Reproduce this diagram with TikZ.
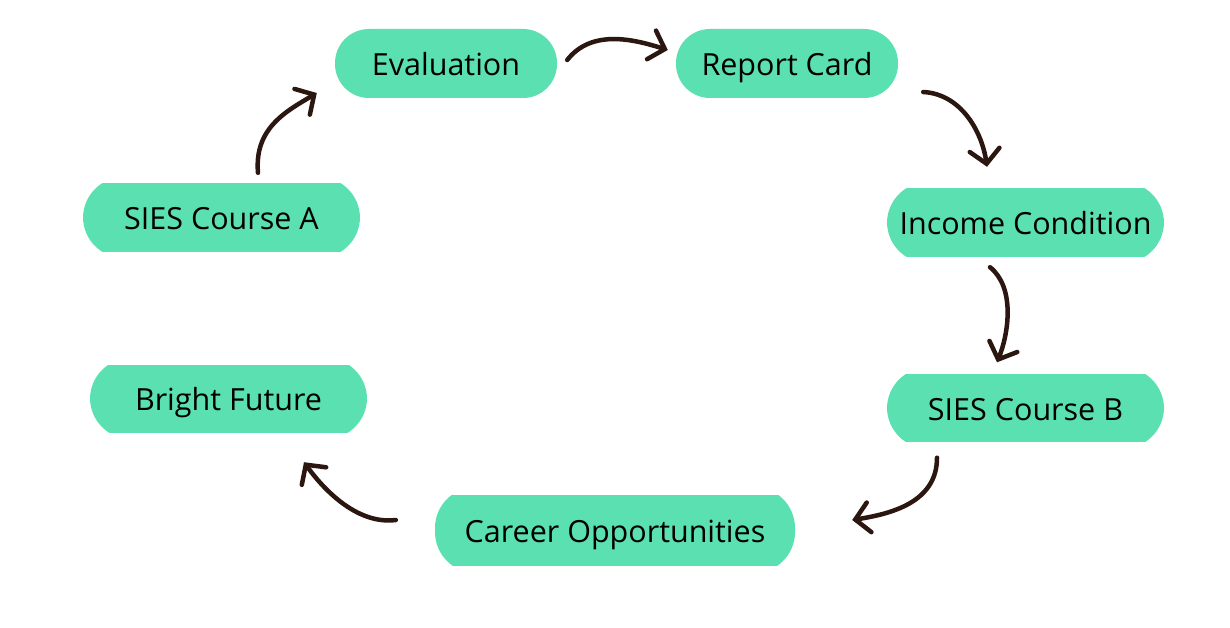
\documentclass[tikz,border=0pt]{standalone}
\usepackage{fontspec}
\setmainfont{Open Sans}
\usetikzlibrary{calc,arrows.meta}
\definecolor{stagegreen}{RGB}{91,224,177}
\definecolor{inkbrown}{RGB}{43,22,16}

\begin{document}
\begin{tikzpicture}[x=1pt, y=-1pt,
  arr/.style={-{Straight Barb[length=14pt,width=30pt,line cap=round]}, line width=4.5pt, line cap=round, draw=inkbrown},
  stage/.style={fill=stagegreen, rounded corners=34pt, minimum width=222pt, minimum height=69pt, inner sep=0pt,
    font=\fontsize{30.5}{36}\selectfont, text height=32pt, text depth=7.6pt},
  cutstage/.style={minimum width=277pt, minimum height=67pt, inner sep=0pt,
    font=\fontsize{30.5}{36}\selectfont, text height=32pt, text depth=7.6pt,
    path picture={\fill[stagegreen, rounded corners=41pt] ([yshift=-#1]path picture bounding box.south west) rectangle ([yshift=#1]path picture bounding box.north east);}},
  cutstage/.default=7pt
]
\useasboundingbox (0,0) rectangle (1230,628);

% the stages of the cycle
\node[cutstage] (courseA) at (221.5,217.5) {SIES Course A};
\node[stage] (eval) at (446,63.5) {Evaluation};
\node[stage] (report) at (787,63.5) {Report Card};
\node[cutstage] (income) at (1025.5,222.5) {Income Condition};
\node[cutstage] (courseB) at (1025.5,408) {SIES Course B};
\node[cutstage=8pt, minimum width=360pt, minimum height=70pt] (career) at (615,530) {Career Opportunities};
\node[cutstage] (future) at (228.5,398.5) {Bright Future};

% curved arrows between them
\draw[arr] ($(courseA.north)+(36.5,-11)$) .. controls +(-4,-45) and +(-30,18) .. ($(eval.west)+(-18,29.5)$);
\draw[arr] ($(eval.east)+(10,-3.5)$) .. controls +(25,-32) and +(-32,-10) .. ($(report.west)+(-8,-13.5)$);
\draw[arr] ($(report.east)+(25,28.5)$) .. controls +(38,2) and +(-5,-35) .. ($(income.north)+(-38.5,-22)$);
\draw[arr] ($(income.south)+(-35.5,11)$) .. controls +(25,20) and +(12,-30) .. ($(courseB.north)+(-28.5,-12)$);
\draw[arr] ($(courseB.south)+(-88.5,16)$) .. controls +(0,45) and +(38,-6) .. ($(career.east)+(57,-10)$);
\draw[arr] ($(career.west)+(-39,-10)$) .. controls +(-40,5) and +(18,25) .. ($(future.south)+(75.5,30)$);

\end{tikzpicture}
\end{document}
